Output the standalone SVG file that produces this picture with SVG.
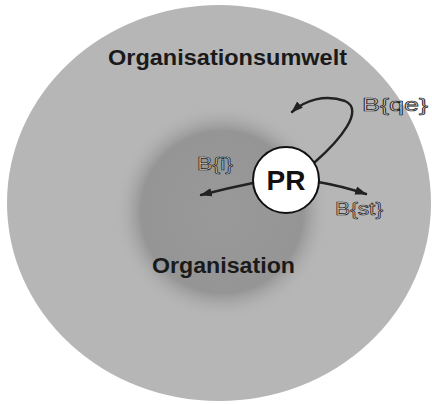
<svg xmlns="http://www.w3.org/2000/svg" width="432" height="404" viewBox="0 0 432 404">
  <style>
    .title { font-family: "Liberation Sans", Arial, sans-serif; font-weight: bold; font-size: 22px; fill: #1a1a1a; }
    .lbl { font-family: "Liberation Sans", Arial, sans-serif; font-size: 19px; fill: #cfcfcf; stroke: #222; stroke-width: 0.7; }
    .pr { font-family: "Liberation Sans", Arial, sans-serif; font-weight: bold; font-size: 28px; fill: #111; }
    .conn { fill: none; stroke: #222; stroke-width: 2.4; stroke-linecap: round; }
  </style>
  <defs>
    <radialGradient id="inner" cx="222" cy="212" r="108" gradientUnits="userSpaceOnUse">
      <stop offset="0" stop-color="#999999"/>
      <stop offset="0.75" stop-color="#959595"/>
      <stop offset="1" stop-color="#b6b6b6" stop-opacity="0"/>
    </radialGradient>
    <marker id="wedge" viewBox="0 0 10 10" refX="9" refY="5" markerWidth="5" markerHeight="5" orient="auto">
      <path d="M0,1.5 L10,5 L0,8.5 Z" fill="#222"/>
    </marker>
  </defs>
  <rect width="432" height="404" fill="#ffffff"/>
  <g id="umwelt">
    <ellipse cx="219" cy="203" rx="212" ry="198" fill="#b6b6b6"/>
    <text class="title" x="108" y="65" textLength="239" lengthAdjust="spacingAndGlyphs">Organisationsumwelt</text>
  </g>
  <g id="organisation">
    <circle cx="222" cy="212" r="108" fill="url(#inner)"/>
    <text class="title" x="152" y="273" textLength="143" lengthAdjust="spacingAndGlyphs">Organisation</text>
  </g>
  <g id="connectors">
    <path class="conn" d="M253,183 Q228,188 201,195" marker-end="url(#wedge)"/>
    <path class="conn" d="M318,182 Q342,186 366,194" marker-end="url(#wedge)"/>
    <path class="conn" d="M315,162 C340,140 365,110 345,101 C325,94 305,100 292,112" marker-end="url(#wedge)"/>
  </g>
  <g id="labels">
    <text class="lbl" x="362" y="111" textLength="66" lengthAdjust="spacingAndGlyphs">B{qe}</text>
    <text class="lbl" x="197" y="170" textLength="36" lengthAdjust="spacingAndGlyphs">B{i}</text>
    <text class="lbl" x="335" y="215" textLength="48" lengthAdjust="spacingAndGlyphs">B{st}</text>
  </g>
  <g id="pr">
    <circle cx="286" cy="180" r="33" fill="#ffffff" stroke="#111" stroke-width="2"/>
    <text class="pr" x="286" y="190" text-anchor="middle">PR</text>
  </g>
</svg>
